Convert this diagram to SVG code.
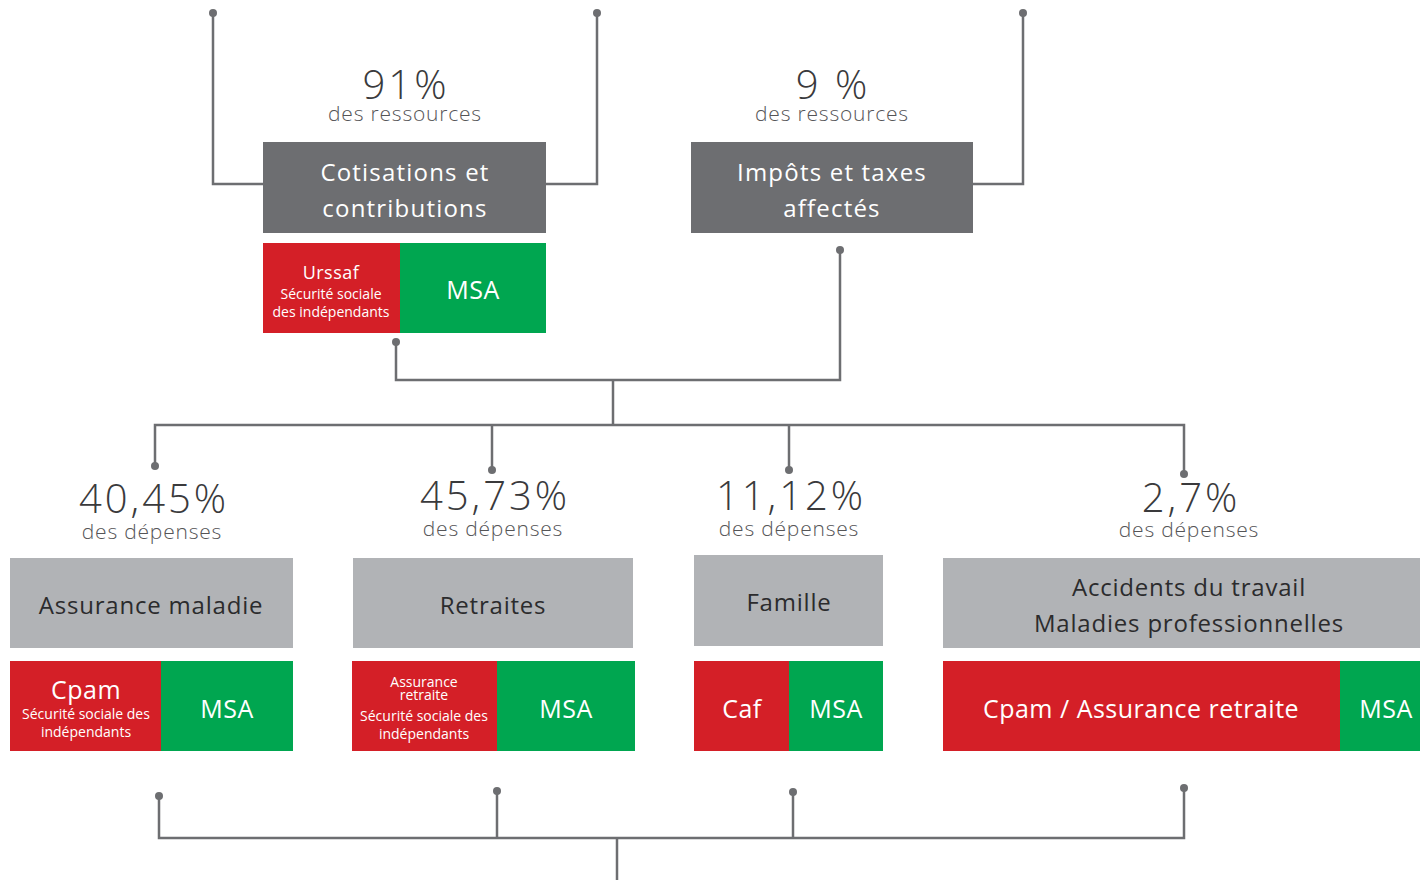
<svg xmlns="http://www.w3.org/2000/svg" width="1420" height="880" viewBox="0 0 1420 880">
  <style>
    .bg { fill: #ffffff; }
    .dark { fill: #6d6e71; }
    .light { fill: #b1b3b6; }
    .red { fill: #d41f27; }
    .green { fill: #00a650; }
    .wire { fill: none; stroke: #6d6e71; stroke-width: 2.5; }
    .dot { fill: #6d6e71; }
    text { font-family: "Open Sans", "DejaVu Sans", sans-serif; text-anchor: middle; }
    .pct { font-size: 40px; font-weight: 300; fill: #3a3a3c; letter-spacing: 3px; }
    .sub { font-size: 21px; font-weight: 300; fill: #555557; letter-spacing: 0.8px; }
    .head-w { font-size: 24px; fill: #ffffff; letter-spacing: 1.2px; }
    .head-d { font-size: 24px; fill: #2b2b2d; letter-spacing: 0.8px; }
    .org { font-size: 25px; fill: #ffffff; letter-spacing: 0.5px; }
    .small { font-size: 14px; fill: #ffffff; }
  </style>
  <rect class="bg" width="1420" height="880"/>

  <!-- connectors -->
  <g id="connectors">
    <path class="wire" d="M213 13 V184 H263"/>
    <path class="wire" d="M597 13 V184 H546"/>
    <path class="wire" d="M1023 13 V184 H973"/>
    <path class="wire" d="M396 342 V380 H840 V250"/>
    <path class="wire" d="M613 380 V425"/>
    <path class="wire" d="M155 466 V425 H1184 V474"/>
    <path class="wire" d="M492 425 V470"/>
    <path class="wire" d="M789 425 V470"/>
    <path class="wire" d="M159 796 V838 H1184 V788"/>
    <path class="wire" d="M497 791 V838"/>
    <path class="wire" d="M793 792 V838"/>
    <path class="wire" d="M617 838 V880"/>
    <circle class="dot" cx="213" cy="13" r="4"/>
    <circle class="dot" cx="597" cy="13" r="4"/>
    <circle class="dot" cx="1023" cy="13" r="4"/>
    <circle class="dot" cx="396" cy="342" r="4"/>
    <circle class="dot" cx="840" cy="250" r="4"/>
    <circle class="dot" cx="155" cy="466" r="4"/>
    <circle class="dot" cx="492" cy="470" r="4"/>
    <circle class="dot" cx="789" cy="470" r="4"/>
    <circle class="dot" cx="1184" cy="474" r="4"/>
    <circle class="dot" cx="159" cy="796" r="4"/>
    <circle class="dot" cx="497" cy="791" r="4"/>
    <circle class="dot" cx="793" cy="792" r="4"/>
    <circle class="dot" cx="1184" cy="788" r="4"/>
  </g>

  <!-- resources -->
  <g id="cotisations">
    <text class="pct" x="406" y="99">91%</text>
    <text class="sub" x="405" y="121">des ressources</text>
    <rect class="dark" x="263" y="142" width="283" height="91"/>
    <text class="head-w" x="405" y="181">Cotisations et</text>
    <text class="head-w" x="405" y="217">contributions</text>
  </g>
  <g id="cotisations-orgs">
    <rect class="red" x="263" y="243" width="137" height="90"/>
    <rect class="green" x="400" y="243" width="146" height="90"/>
    <text class="org" x="331" y="279" style="font-size:18px">Urssaf</text>
    <text class="small" x="331" y="299">Sécurité sociale</text>
    <text class="small" x="331" y="317">des indépendants</text>
    <text class="org" x="473" y="299">MSA</text>
  </g>
  <g id="impots">
    <text class="pct" x="833" y="99">9 %</text>
    <text class="sub" x="832" y="121">des ressources</text>
    <rect class="dark" x="691" y="142" width="282" height="91"/>
    <text class="head-w" x="832" y="181">Impôts et taxes</text>
    <text class="head-w" x="832" y="217">affectés</text>
  </g>

  <!-- expenses -->
  <g id="maladie">
    <text class="pct" x="154" y="513">40,45%</text>
    <text class="sub" x="152" y="539">des dépenses</text>
    <rect class="light" x="10" y="558" width="283" height="90"/>
    <text class="head-d" x="151" y="614">Assurance maladie</text>
    <rect class="red" x="10" y="661" width="151" height="90"/>
    <rect class="green" x="161" y="661" width="132" height="90"/>
    <text class="org" x="86" y="699">Cpam</text>
    <text class="small" x="86" y="719">Sécurité sociale des</text>
    <text class="small" x="86" y="737">indépendants</text>
    <text class="org" x="227" y="718">MSA</text>
  </g>
  <g id="retraites">
    <text class="pct" x="495" y="510">45,73%</text>
    <text class="sub" x="493" y="536">des dépenses</text>
    <rect class="light" x="353" y="558" width="280" height="90"/>
    <text class="head-d" x="493" y="614">Retraites</text>
    <rect class="red" x="352" y="661" width="145" height="90"/>
    <rect class="green" x="497" y="661" width="138" height="90"/>
    <text class="small" x="424" y="687">Assurance</text>
    <text class="small" x="424" y="700">retraite</text>
    <text class="small" x="424" y="721">Sécurité sociale des</text>
    <text class="small" x="424" y="739">indépendants</text>
    <text class="org" x="566" y="718">MSA</text>
  </g>
  <g id="famille">
    <text class="pct" x="791" y="510">11,12%</text>
    <text class="sub" x="789" y="536">des dépenses</text>
    <rect class="light" x="694" y="555" width="189" height="91"/>
    <text class="head-d" x="789" y="611">Famille</text>
    <rect class="red" x="694" y="661" width="95" height="90"/>
    <rect class="green" x="789" y="661" width="94" height="90"/>
    <text class="org" x="742" y="718">Caf</text>
    <text class="org" x="836" y="718">MSA</text>
  </g>
  <g id="accidents">
    <text class="pct" x="1191" y="512">2,7%</text>
    <text class="sub" x="1189" y="537">des dépenses</text>
    <rect class="light" x="943" y="558" width="477" height="90"/>
    <text class="head-d" x="1189" y="596">Accidents du travail</text>
    <text class="head-d" x="1189" y="632">Maladies professionnelles</text>
    <rect class="red" x="943" y="661" width="397" height="90"/>
    <rect class="green" x="1340" y="661" width="80" height="90"/>
    <text class="org" x="1141" y="718">Cpam / Assurance retraite</text>
    <text class="org" x="1386" y="718">MSA</text>
  </g>
</svg>
